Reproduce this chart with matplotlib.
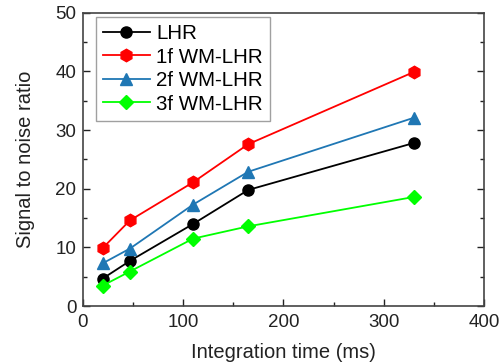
import matplotlib
matplotlib.use("Agg")
import matplotlib.pyplot as plt
from matplotlib.ticker import MultipleLocator

plt.rcParams['font.family'] = ['Liberation Sans', 'DejaVu Sans']

x = [20, 47, 110, 165, 330]
lhr = [4.7, 7.7, 14.0, 19.8, 27.8]
wm1 = [9.9, 14.6, 21.1, 27.6, 39.9]
wm2 = [7.3, 9.8, 17.3, 22.9, 32.1]
wm3 = [3.5, 5.9, 11.5, 13.6, 18.6]
labels = ["LHR", "1f WM-LHR", "2f WM-LHR", "3f WM-LHR"]

fig = plt.figure(figsize=(4.99, 3.64), dpi=100)
ax = fig.add_axes([0.1657, 0.159, 0.8043, 0.806])

ms = 8
ax.plot(x, lhr, '-o', color='black', ms=ms, lw=1.3, label=labels[0])
ax.plot(x, wm1, '-h', color='#FF0000', ms=ms + 1, lw=1.3, label=labels[1])
ax.plot(x, wm2, '-^', color='#1F77B4', ms=ms + 1, lw=1.3, label=labels[2])
ax.plot(x, wm3, '-D', color='#00FF00', ms=ms - 1, lw=1.3, label=labels[3])

ax.set_xlim(0, 400)
ax.set_ylim(0, 50)
ax.xaxis.set_major_locator(MultipleLocator(100))
ax.xaxis.set_minor_locator(MultipleLocator(50))
ax.yaxis.set_major_locator(MultipleLocator(10))
ax.yaxis.set_minor_locator(MultipleLocator(5))
ax.tick_params(which='both', direction='in', right=True, top=False, labelsize=13.5, colors='#222222')
ax.tick_params(which='major', length=5, width=1)
ax.tick_params(which='minor', length=3, width=1)
ax.tick_params(axis='x', which='both', pad=6)
ax.tick_params(axis='y', which='both', pad=4.5)
for s in ax.spines.values():
    s.set_linewidth(1.2)
    s.set_color('#444444')

ax.set_xlabel("Integration time (ms)", fontsize=14.5, color='#222222', labelpad=8)
ax.set_ylabel("Signal to noise ratio", fontsize=14.5, color='#222222', labelpad=15)

leg = ax.legend(loc='upper left', fontsize=14.8, frameon=True, fancybox=False,
                edgecolor='#888888', handlelength=2.3, borderpad=0.35,
                labelspacing=0.22, handletextpad=0.3, borderaxespad=0,
                bbox_to_anchor=(0.032, 0.986))
leg.get_frame().set_linewidth(1.0)

fig.savefig("out.png", dpi=100)
